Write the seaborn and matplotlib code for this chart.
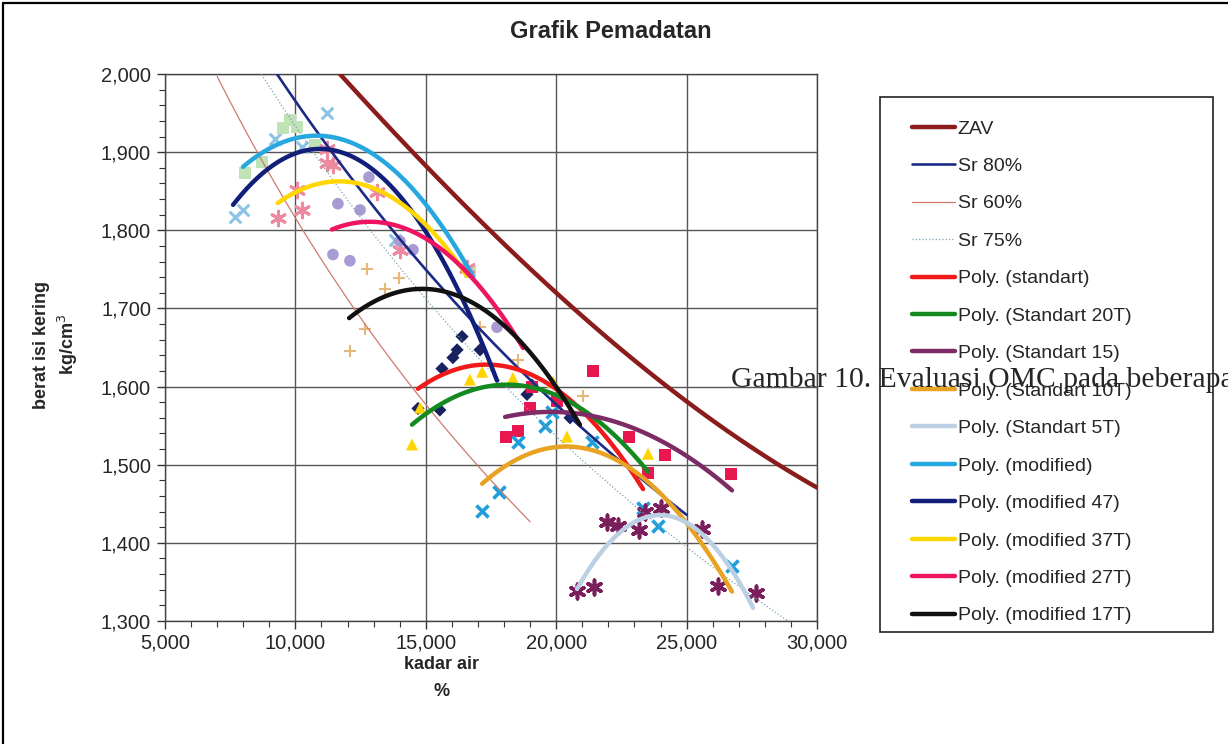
import matplotlib
matplotlib.use('Agg')
import matplotlib.pyplot as plt
import matplotlib.ticker as mticker
from matplotlib.lines import Line2D
from matplotlib.patches import Rectangle
import seaborn as sns

# kadar air (%) vs berat isi kering
# --- reference curves ---
zav_x = [11.6, 13.0, 14.9, 17.4, 20.0, 22.5, 25.0, 27.5, 30.0]
zav_y = [2.000, 1.953, 1.898, 1.797, 1.714, 1.645, 1.586, 1.525, 1.468]
sr80_x = [9.3, 10.0, 12.5, 15.0, 17.5, 20.0, 22.5, 25.0]
sr80_y = [2.000, 1.965, 1.851, 1.750, 1.659, 1.577, 1.503, 1.436]
sr60_x = [7.0, 8.5, 10.0, 12.5, 15.0, 17.5, 19.0]
sr60_y = [1.997, 1.902, 1.816, 1.688, 1.577, 1.480, 1.427]
sr75_x = [8.7, 10.0, 12.5, 15.0, 17.5, 20.0, 22.5, 25.0, 27.5, 29.3]
sr75_y = [2.000, 1.933, 1.816, 1.712, 1.620, 1.537, 1.462, 1.394, 1.332, 1.291]

# --- trend curves (Excel "Poly." trendlines) ---
std_x = [14.70, 15.54, 17.35, 19.00, 20.53, 22.06, 23.33]
std_y = [1.597, 1.614, 1.628, 1.616, 1.583, 1.529, 1.469]
s20_x = [14.47, 15.54, 16.69, 18.11, 19.76, 21.30, 22.45, 23.52]
s20_y = [1.551, 1.577, 1.595, 1.602, 1.592, 1.564, 1.531, 1.491]
s15_x = [18.04, 19.76, 21.68, 23.21, 24.75, 25.90, 26.74]
s15_y = [1.561, 1.568, 1.560, 1.543, 1.517, 1.490, 1.467]
s10_x = [17.16, 18.23, 19.38, 20.38, 21.68, 23.21, 24.75, 25.90, 26.74]
s10_y = [1.474, 1.503, 1.519, 1.524, 1.517, 1.486, 1.434, 1.379, 1.342]
s5_x = [20.80, 21.68, 22.83, 23.98, 25.13, 26.28, 27.55]
s5_y = [1.341, 1.386, 1.423, 1.436, 1.423, 1.386, 1.317]
mod_x = [7.99, 9.03, 10.79, 12.48, 14.01, 15.16, 16.12, 16.81]
mod_y = [1.882, 1.905, 1.919, 1.907, 1.871, 1.830, 1.775, 1.742]
m47_x = [7.61, 8.64, 9.79, 10.94, 12.48, 14.01, 15.54, 16.69, 17.73]
m47_y = [1.832, 1.871, 1.895, 1.904, 1.889, 1.844, 1.769, 1.689, 1.609]
m37_x = [9.33, 10.18, 11.63, 13.24, 14.78, 15.93, 16.58]
m37_y = [1.835, 1.852, 1.862, 1.849, 1.815, 1.775, 1.739]
m27_x = [11.40, 12.09, 12.86, 14.01, 15.16, 16.31, 17.46, 18.73]
m27_y = [1.801, 1.808, 1.811, 1.804, 1.788, 1.754, 1.711, 1.650]
m17_x = [12.06, 13.24, 14.85, 16.31, 17.85, 19.38, 20.91]
m17_y = [1.688, 1.712, 1.725, 1.715, 1.683, 1.628, 1.551]

# --- measured points ---
dia_x = [14.70, 15.54, 15.62, 16.04, 16.20, 16.39, 17.08, 18.88, 19.07, 20.53]
dia_y = [1.572, 1.570, 1.623, 1.637, 1.647, 1.664, 1.647, 1.590, 1.602, 1.560]
sq_x = [18.08, 18.54, 19.00, 19.07, 20.03, 21.41, 22.79, 23.52, 24.17, 26.70]
sq_y = [1.536, 1.543, 1.573, 1.600, 1.581, 1.620, 1.535, 1.490, 1.512, 1.488]
tri_x = [14.47, 14.78, 16.69, 17.16, 18.34, 19.88, 20.41, 23.52]
tri_y = [1.526, 1.573, 1.609, 1.619, 1.611, 1.606, 1.536, 1.514]
cx_x = [17.16, 17.81, 18.54, 19.57, 19.84, 21.37, 23.33, 23.90, 26.74]
cx_y = [1.441, 1.465, 1.529, 1.549, 1.568, 1.529, 1.445, 1.421, 1.371]
ast_x = [20.80, 21.45, 21.95, 22.37, 23.17, 23.40, 24.02, 25.59, 26.20, 27.66]
ast_y = [1.338, 1.344, 1.427, 1.421, 1.417, 1.440, 1.444, 1.418, 1.345, 1.336]
mx_x = [7.68, 7.99, 9.22, 10.25, 11.21, 13.82]
mx_y = [1.817, 1.826, 1.917, 1.907, 1.950, 1.788]
msq_x = [8.07, 8.72, 9.52, 9.79, 10.06, 10.75, 16.69]
msq_y = [1.873, 1.887, 1.931, 1.941, 1.932, 1.909, 1.747]
mast_x = [9.33, 10.25, 10.06, 11.21, 11.21, 11.44, 13.13, 14.01, 16.58]
mast_y = [1.816, 1.826, 1.852, 1.904, 1.886, 1.884, 1.849, 1.775, 1.752]
mcir_x = [11.63, 12.48, 12.82, 11.44, 12.09, 14.01, 14.51, 17.73]
mcir_y = [1.834, 1.826, 1.868, 1.769, 1.761, 1.786, 1.775, 1.676]
mplus_x = [12.09, 12.67, 12.75, 13.44, 13.97, 17.08, 18.54, 21.03]
mplus_y = [1.645, 1.674, 1.751, 1.725, 1.739, 1.676, 1.634, 1.588]

sns.set_style('ticks')
plt.rcParams['font.family'] = ['Liberation Sans', 'DejaVu Sans']

W, H = 1228, 744
fig = plt.figure(figsize=(W / 100, H / 100), dpi=100)
ax = fig.add_axes([165 / W, 1 - 621 / H, 652 / W, 547 / H])

# scatter markers (drawn below the curves)
sns.scatterplot(x=mx_x, y=mx_y, marker='x', s=70, color='#8cc4e6', linewidth=2.2, ax=ax, legend=False, zorder=2)
sns.scatterplot(x=msq_x, y=msq_y, marker='s', s=75, color='#bfe3b4', edgecolor='none', ax=ax, legend=False, zorder=2)
sns.scatterplot(x=mast_x, y=mast_y, marker=(6, 2, 0), s=110, color='#ee8aa0', linewidth=2.2, ax=ax, legend=False, zorder=2)
sns.scatterplot(x=mcir_x, y=mcir_y, marker='o', s=70, color='#a89ad2', edgecolor='none', ax=ax, legend=False, zorder=2)
sns.scatterplot(x=mplus_x, y=mplus_y, marker='+', s=80, color='#e5b877', linewidth=1.5, ax=ax, legend=False, zorder=2)
sns.scatterplot(x=dia_x, y=dia_y, marker='D', s=45, color='#18225e', edgecolor='none', ax=ax, legend=False, zorder=2)
sns.scatterplot(x=sq_x, y=sq_y, marker='s', s=75, color='#e8174f', edgecolor='none', ax=ax, legend=False, zorder=2)
sns.scatterplot(x=tri_x, y=tri_y, marker='^', s=75, color='#ffd400', edgecolor='none', ax=ax, legend=False, zorder=2)
sns.scatterplot(x=cx_x, y=cx_y, marker='x', s=75, color='#1e9fdc', linewidth=2.6, ax=ax, legend=False, zorder=2)
sns.scatterplot(x=ast_x, y=ast_y, marker=(6, 2, 0), s=110, color='#7a1f5c', linewidth=2.6, ax=ax, legend=False, zorder=2)

# name, x, y, colour, width, style, polynomial order of the smooth curve
curves = [
    ('ZAV', zav_x, zav_y, '#8b1c1c', 3.2, '-', 3),
    ('Sr 80%', sr80_x, sr80_y, '#1c2a86', 1.9, '-', 3),
    ('Sr 60%', sr60_x, sr60_y, '#cf7a6c', 0.9, '-', 3),
    ('Sr 75%', sr75_x, sr75_y, '#7fa3b3', 0.9, ':', 3),
    ('Poly. (standart)', std_x, std_y, '#f01a1a', 3.2, '-', 2),
    ('Poly. (Standart 20T)', s20_x, s20_y, '#138a1f', 3.2, '-', 2),
    ('Poly. (Standart 15)', s15_x, s15_y, '#7d2b66', 3.2, '-', 2),
    ('Poly. (Standart 10T)', s10_x, s10_y, '#e8a322', 3.2, '-', 2),
    ('Poly. (Standart 5T)', s5_x, s5_y, '#bcd0e4', 3.2, '-', 2),
    ('Poly. (modified)', mod_x, mod_y, '#27a7df', 3.2, '-', 2),
    ('Poly. (modified 47)', m47_x, m47_y, '#121f7a', 3.2, '-', 2),
    ('Poly. (modified 37T)', m37_x, m37_y, '#ffd600', 3.2, '-', 2),
    ('Poly. (modified 27T)', m27_x, m27_y, '#ee1462', 3.2, '-', 2),
    ('Poly. (modified 17T)', m17_x, m17_y, '#111111', 3.2, '-', 2),
]
for name, xs, ys, col, lw, ls, k in curves:
    sns.regplot(x=xs, y=ys, order=k, scatter=False, ci=None, truncate=True,
                color=col, label=name, ax=ax,
                line_kws={'linewidth': lw, 'linestyle': ls, 'zorder': 3})

handles, labels = ax.get_legend_handles_labels()
if ax.get_legend() is not None:
    ax.get_legend().remove()

ax.set_xlim(5, 30)
ax.set_ylim(1.3, 2.0)
ax.xaxis.set_major_locator(mticker.MultipleLocator(5))
ax.xaxis.set_minor_locator(mticker.MultipleLocator(1))
ax.yaxis.set_major_locator(mticker.MultipleLocator(0.1))
ax.yaxis.set_minor_locator(mticker.MultipleLocator(0.02))
fmt = mticker.FuncFormatter(lambda v, p: f'{v:.3f}'.replace('.', ','))
ax.xaxis.set_major_formatter(fmt)
ax.yaxis.set_major_formatter(fmt)
ax.tick_params(which='major', direction='out', length=6, width=1, labelsize=14.5, color='#333')
ax.tick_params(which='minor', direction='out', length=4, width=0.8, color='#333')
ax.tick_params(axis='y', pad=4)
ax.tick_params(axis='x', pad=3)
ax.grid(which='major', color='#555', linewidth=1)
for sp in ax.spines.values():
    sp.set_visible(True)
    sp.set_color('#444')
    sp.set_linewidth(1)

ax.set_xlabel('kadar air\n%', fontsize=13, fontweight='bold', linespacing=1.75)
ax.xaxis.set_label_coords((442 - 165) / 652, -0.064)
ax.set_ylabel('berat isi kering\nkg/cm$^3$', fontsize=13, fontweight='bold', linespacing=1.3)
ax.yaxis.set_label_coords((80 - 165) / 652, 0.505)

fig.text(611 / W, 1 - 31 / H, 'Grafik Pemadatan', ha='center', va='center',
         fontsize=17, fontweight='bold')

# legend box
fig.add_artist(Rectangle((880 / W, 1 - 632 / H), (1213 - 880) / W, (632 - 97) / H,
                         transform=fig.transFigure, fill=False, edgecolor='#222', linewidth=1.2))
fig.legend(handles, labels, loc='upper left', bbox_to_anchor=(912 / W, 1 - 120 / H),
           frameon=False, fontsize=14, handlelength=2.2, handletextpad=0.15,
           labelspacing=1.02, borderpad=0, borderaxespad=0)

# document caption overlapping the chart
fig.text(731 / W, 1 - 380 / H, 'Gambar 10. Evaluasi OMC pada beberapa',
         family=['Liberation Serif', 'DejaVu Serif'], fontsize=21.3, ha='left', va='center', zorder=10)

# outer frame of the scan
fig.add_artist(Line2D([3 / W, 1], [1 - 3 / H, 1 - 3 / H], transform=fig.transFigure, color='k', linewidth=1.6))
fig.add_artist(Line2D([3 / W, 3 / W], [0, 1 - 3 / H], transform=fig.transFigure, color='k', linewidth=1.6))

fig.savefig('out.png', dpi=100)
